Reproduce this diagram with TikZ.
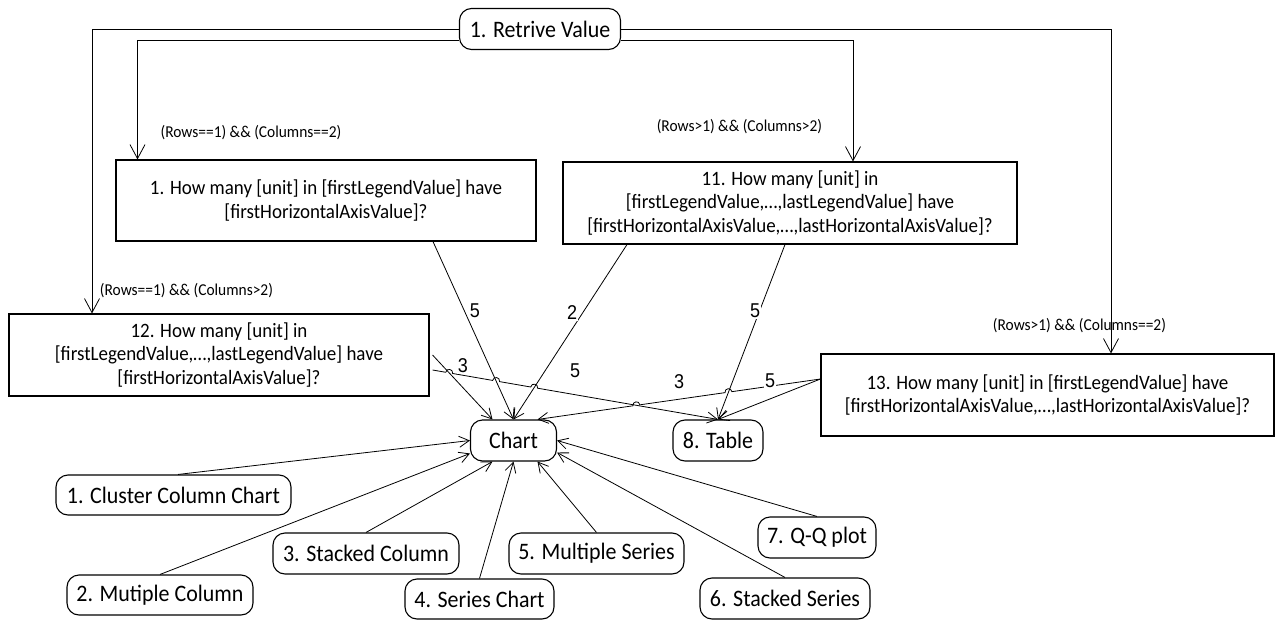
\documentclass[tikz,border=0pt]{standalone}
\usepackage{fontspec}
\setmainfont{Carlito}[FakeStretch=0.93]
\newfontfamily\numfont{Liberation Sans}[FakeStretch=0.9]
\usetikzlibrary{arrows.meta, calc, intersections}

\begin{document}
\begin{tikzpicture}[x=1pt, y=-1pt, line width=0.8pt,
    qbox/.style={rectangle, draw, line width=1.1pt, align=center, inner sep=0pt, font=\fontsize{20.4}{23.5}\selectfont},
    kind/.style={rectangle, rounded corners=12pt, draw, line width=1.1pt, inner sep=0pt, minimum height=41pt, font=\fontsize{23.6}{26}\selectfont},
    cond/.style={inner sep=0pt, font=\fontsize{16.6}{18}\selectfont},
    num/.style={fill=white, inner sep=1pt, font=\numfont\fontsize{20}{22}\selectfont},
    arr/.style={-{Straight Barb[length=10pt, width=11pt]}},
    arrbig/.style={-{Straight Barb[length=14pt, width=15pt]}},
    hop/.style={bend left=90, looseness=1.7},
    hopr/.style={bend right=90, looseness=1.7}]

    \useasboundingbox (0,0) rectangle (1283,621);

    \node[kind, minimum width=161pt] (value) at (540,29) {1. Retrive Value};
    \node[qbox, minimum width=420pt, minimum height=81pt] (q1) at (326,200.5) {1. How many [unit] in [firstLegendValue] have\\{}[firstHorizontalAxisValue]?};
    \node[qbox, minimum width=454pt, minimum height=82pt] (q11) at (790,203) {11. How many [unit] in\\{}[firstLegendValue,…,lastLegendValue] have\\{}[firstHorizontalAxisValue,…,lastHorizontalAxisValue]?};
    \node[qbox, minimum width=420pt, minimum height=82pt] (q12) at (219,355) {12. How many [unit] in\\{}[firstLegendValue,…,lastLegendValue] have\\{}[firstHorizontalAxisValue]?};
    \node[qbox, minimum width=453pt, minimum height=82pt] (q13) at (1047.5,395) {13. How many [unit] in [firstLegendValue] have\\{}[firstHorizontalAxisValue,…,lastHorizontalAxisValue]?};

    \node[kind, minimum width=86pt] (chart) at (513.5,440.5) {Chart};
    \node[kind, minimum width=90pt] (table) at (718,440.5) {8. Table};
    \node[kind, minimum width=235pt, minimum height=40pt] (cluster) at (173.5,495) {1. Cluster Column Chart};
    \node[kind, minimum width=186pt, minimum height=40pt] (multicol) at (160,595) {2. Mutiple Column};
    \node[kind, minimum width=186pt] (stackcol) at (366,553.5) {3. Stacked Column};
    \node[kind, minimum width=149pt, minimum height=40pt] (series) at (479.5,599) {4. Series Chart};
    \node[kind, minimum width=175pt] (multiser) at (596.5,553.5) {5. Multiple Series};
    \node[kind, minimum width=170pt] (stackser) at (785,598.5) {6. Stacked Series};
    \node[kind, minimum width=118pt] (qq) at (817,537.5) {7. Q-Q plot};

    \node[cond] (c1) at (251,133) {(Rows==1) \&\& (Columns==2)};
    \node[cond] (c11) at (739.5,127) {(Rows>1) \&\& (Columns>2)};
    \node[cond] (c12) at (186.5,291) {(Rows==1) \&\& (Columns>2)};
    \node[cond] (c13) at (1079.5,326) {(Rows>1) \&\& (Columns==2)};

    \draw[arrbig] (value.west) -| ([xshift=-127pt]q12.north);
    \draw[arrbig] ([yshift=-11pt]value.west) -| ([xshift=-188.5pt]q1.north);
    \draw[arrbig] ([yshift=-11pt]value.east) -| ([xshift=63pt]q11.north);
    \draw[arrbig] (value.east) -| ([xshift=63.5pt]q13.north);

    \draw[arr, name path=l1] ([xshift=107pt]q1.south) -- (chart.north);
    \draw[arr, name path=l2] ([xshift=-163pt]q11.south) -- (chart.north);
    \draw[arr, name path=l3] ([xshift=-5pt]q11.south) -- (table.north);
    \draw[arr, name path=l4] ([xshift=3pt]q12.east) -- ([xshift=-21pt]chart.north);

    \coordinate (s5) at ([xshift=3pt, yshift=-15pt]q12.east);
    \coordinate (s6) at ([yshift=16pt]q13.west);
    \coordinate (e6) at ([xshift=24pt]chart.north);
    \path[name path=l5] (s5) -- (table.north);
    \path[name path=l6] (s6) -- (e6);
    \path[name intersections={of=l5 and l4, by=x1}];
    \path[name intersections={of=l5 and l1, by=x2}];
    \path[name intersections={of=l5 and l2, by=x3}];
    \path[name intersections={of=l6 and l3, by=x4}];
    \path[name intersections={of=l6 and l5, by=x5}];
    \draw[arr] (s5) -- ($(x1)!3.5pt!(s5)$) to[hop] ($(x1)!3.5pt!(table.north)$)
        -- ($(x2)!3.5pt!(s5)$) to[hop] ($(x2)!3.5pt!(table.north)$)
        -- ($(x3)!3.5pt!(s5)$) to[hop] ($(x3)!3.5pt!(table.north)$) -- (table.north);
    \draw[arr] (s6) -- ($(x4)!3.5pt!(s6)$) to[hopr] ($(x4)!3.5pt!(e6)$)
        -- ($(x5)!3.5pt!(s6)$) to[hopr] ($(x5)!3.5pt!(e6)$) -- (e6);
    \draw[arr] (s6) -- (table.north);

    \draw[arr] ([xshift=4.5pt]cluster.north) -- (chart.west);
    \draw[arr] (multicol.north) -- ([yshift=-13pt]chart.west);
    \draw[arr] (stackcol.north) -- ([xshift=-21pt]chart.south);
    \draw[arr] (series.north) -- (chart.south);
    \draw[arr] (multiser.north) -- ([xshift=24pt]chart.south);
    \draw[arr] (stackser.north) -- ([yshift=-12pt]chart.east);
    \draw[arr] (qq.north) -- (chart.east);

    \node[num] (n1) at (475,311) {5};
    \node[num] (n2) at (572,313) {2};
    \node[num] (n3) at (755,311) {5};
    \node[num] (n4) at (463,366) {3};
    \node[num] (n5) at (575,371) {5};
    \node[num] (n6) at (679,382) {3};
    \node[num] (n7) at (770,381) {5};
\end{tikzpicture}
\end{document}
